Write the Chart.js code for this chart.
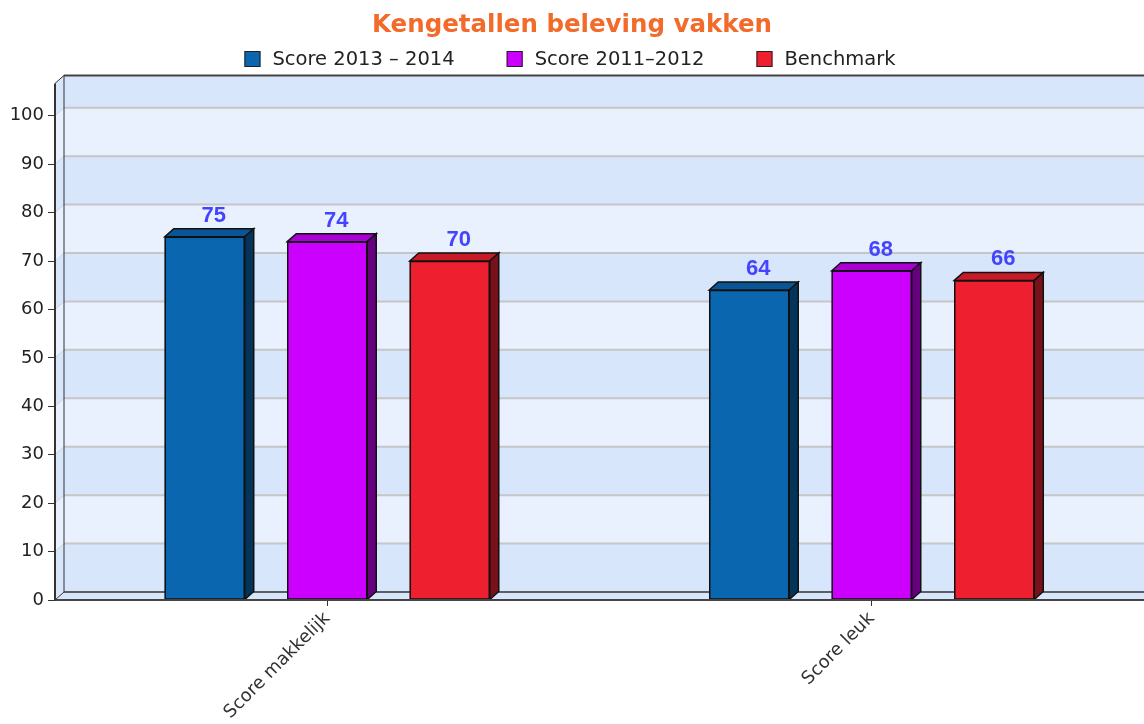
<!DOCTYPE html>
<html>
<head>
<meta charset="utf-8">
<title>Kengetallen beleving vakken</title>
<script src="https://cdn.jsdelivr.net/npm/chart.js@4.4.1/dist/chart.umd.min.js"></script>
<style>
  html, body { margin: 0; padding: 0; background: #fff; overflow: hidden; }
</style>
</head>
<body>
<canvas id="vakkenChart" width="1144" height="724"></canvas>
<script>
// data
const categories = ['Score makkelijk', 'Score leuk'];
const seriesNames = ['Score 2013 \u2013 2014', 'Score 2011\u20132012', 'Benchmark'];
const score2013 = [75, 64];
const score2011 = [74, 68];
const benchmark = [70, 66];
const yTicks = [0, 10, 20, 30, 40, 50, 60, 70, 80, 90, 100];
const yMax = 107.5;

// colours: front, top and side face of the 3d bars
const frontColors = ['#0b66b0', '#cc00ff', '#ee1f2e'];
const topColors = ['#0a5596', '#aa00d4', '#c81b28'];
const sideColors = ['#04345a', '#66007f', '#78111a'];
const bandDark = '#d8e6fc';
const bandLight = '#e9f0fe';

// depth of the fake 3d effect
const DX = 9;
const DY = 8;

function line(ctx, x1, y1, x2, y2, color, w) {
  ctx.beginPath();
  ctx.moveTo(x1, y1);
  ctx.lineTo(x2, y2);
  ctx.strokeStyle = color;
  ctx.lineWidth = w;
  ctx.stroke();
}

const threeD = {
  id: 'threeD',
  beforeDatasetsDraw(chart) {
    const ctx = chart.ctx;
    const {left, right, top, bottom} = chart.chartArea;
    const ys = chart.scales.y;
    const frontTop = top + DY / 2;
    const backTop = top - DY / 2;
    ctx.save();

    // bands on back wall and left wall
    const edges = yTicks.map(v => ys.getPixelForValue(v));
    edges.push(frontTop);
    for (let i = 0; i < edges.length - 1; i++) {
      const y0 = edges[i], y1 = edges[i + 1];
      ctx.fillStyle = i % 2 === 0 ? bandDark : bandLight;
      ctx.fillRect(left + DX, y1 - DY, right - left + 2, y0 - y1);
      ctx.beginPath();
      ctx.moveTo(left, y0);
      ctx.lineTo(left + DX, y0 - DY);
      ctx.lineTo(left + DX, y1 - DY);
      ctx.lineTo(left, y1);
      ctx.closePath();
      ctx.fill();
    }

    // grid lines
    yTicks.forEach(v => {
      if (v === 0) return;
      const p = ys.getPixelForValue(v);
      line(ctx, left + DX, p - DY, right + DX, p - DY, '#c6c6c6', 2);
      line(ctx, left, p, left + DX, p - DY, '#d0d0d0', 1);
    });

    // floor
    ctx.fillStyle = bandDark;
    ctx.beginPath();
    ctx.moveTo(left, bottom);
    ctx.lineTo(left + DX, bottom - DY);
    ctx.lineTo(right + DX, bottom - DY);
    ctx.lineTo(right, bottom);
    ctx.closePath();
    ctx.fill();
    line(ctx, left + DX, bottom - DY, right + DX, bottom - DY, '#333', 1.5);
    line(ctx, left, bottom, left + DX, bottom - DY, '#333', 1);

    // wall edges
    line(ctx, left + DX, backTop, right + DX, backTop, '#444', 2);
    line(ctx, left, frontTop, left + DX, backTop, '#333', 1);
    line(ctx, left + DX, backTop, left + DX, bottom - DY, '#333', 1);
    ctx.restore();
  },
  afterDatasetsDraw(chart) {
    const ctx = chart.ctx;
    const {left, right, top, bottom} = chart.chartArea;
    ctx.save();
    chart.data.datasets.forEach((ds, di) => {
      const meta = chart.getDatasetMeta(di);
      meta.data.forEach((bar, i) => {
        const {x, y, base, width} = bar.getProps(['x', 'y', 'base', 'width'], true);
        const l = x - width / 2, r = x + width / 2;
        ctx.lineWidth = 1.5;
        ctx.strokeStyle = '#111';

        // outline of the front face
        ctx.strokeRect(l + 0.5, y + 0.5, width - 1, base - y - 1);

        ctx.beginPath();
        ctx.moveTo(l, y);
        ctx.lineTo(l + DX, y - DY);
        ctx.lineTo(r + DX, y - DY);
        ctx.lineTo(r, y);
        ctx.closePath();
        ctx.fillStyle = topColors[di];
        ctx.fill();
        ctx.stroke();

        ctx.beginPath();
        ctx.moveTo(r, y);
        ctx.lineTo(r + DX, y - DY);
        ctx.lineTo(r + DX, base - DY);
        ctx.lineTo(r, base);
        ctx.closePath();
        ctx.fillStyle = sideColors[di];
        ctx.fill();
        ctx.stroke();

        ctx.fillStyle = '#4444ff';
        ctx.font = 'bold 22px "Liberation Sans", Arial, sans-serif';
        ctx.textAlign = 'center';
        ctx.textBaseline = 'alphabetic';
        ctx.fillText(String(ds.data[i]), x + DX, y - DY - 7);
      });
    });

    // front axes
    line(ctx, left, top + DY / 2, left, bottom, '#333', 2);
    line(ctx, left, bottom, right, bottom, '#444', 2);
    ctx.restore();
  },
  afterDraw(chart) {
    // legend row
    const ctx = chart.ctx;
    ctx.save();
    ctx.font = '19.5px "DejaVu Sans", sans-serif';
    const box = 16, gapText = 12, gapItem = 52;
    const items = chart.data.datasets.map(ds => ({
      text: ds.label,
      color: ds.backgroundColor,
      w: ctx.measureText(ds.label).width
    }));
    let total = gapItem * (items.length - 1);
    items.forEach(it => { total += box + gapText + it.w; });
    let x = chart.width / 2 - 2 - total / 2;
    const cy = 59;
    items.forEach(it => {
      ctx.fillStyle = it.color;
      ctx.fillRect(x, cy - box / 2, box, box);
      ctx.strokeStyle = '#222';
      ctx.lineWidth = 1;
      ctx.strokeRect(x + 0.5, cy - box / 2 + 0.5, box - 1, box - 1);
      ctx.fillStyle = '#222';
      ctx.textAlign = 'left';
      ctx.textBaseline = 'middle';
      ctx.fillText(it.text, x + box + gapText, cy + 0.5);
      x += box + gapText + it.w + gapItem;
    });
    ctx.restore();
  }
};

const ctx = document.getElementById('vakkenChart').getContext('2d');
const vakkenChart = new Chart(ctx, {
  type: 'bar',
  data: {
    labels: categories,
    datasets: [
      { label: seriesNames[0], data: score2013, backgroundColor: frontColors[0] },
      { label: seriesNames[1], data: score2011, backgroundColor: frontColors[1] },
      { label: seriesNames[2], data: benchmark, backgroundColor: frontColors[2] }
    ]
  },
  options: {
    responsive: false,
    animation: false,
    layout: { padding: 0 },
    datasets: {
      bar: {
        categoryPercentage: 0.675,
        barPercentage: 0.653,
        borderWidth: 0
      }
    },
    plugins: {
      legend: { display: false },
      tooltip: { enabled: true },
      title: {
        display: true,
        text: 'Kengetallen beleving vakken',
        color: '#f26b2b',
        font: { family: 'DejaVu Sans', size: 24.5, weight: 'bold', lineHeight: 1.2 },
        padding: { top: 11, bottom: 39 }
      }
    },
    scales: {
      x: {
        offset: true,
        grid: { offset: false, drawOnChartArea: false, tickLength: 6, color: '#333' },
        border: { display: false },
        ticks: {
          minRotation: 45,
          maxRotation: 45,
          autoSkip: false,
          color: '#333',
          padding: 2,
          font: { family: 'DejaVu Sans', size: 18 }
        },
        afterFit: s => { s.height = 124; }
      },
      y: {
        min: 0,
        max: yMax,
        afterBuildTicks: s => { s.ticks = yTicks.map(v => ({ value: v })); },
        grid: { drawOnChartArea: false, tickLength: 7, color: '#333' },
        border: { display: false },
        ticks: {
          color: '#222',
          padding: 4,
          font: { family: 'DejaVu Sans', size: 18 }
        },
        afterFit: s => { s.width = 55; }
      }
    }
  },
  plugins: [threeD]
});
</script>
</body>
</html>
